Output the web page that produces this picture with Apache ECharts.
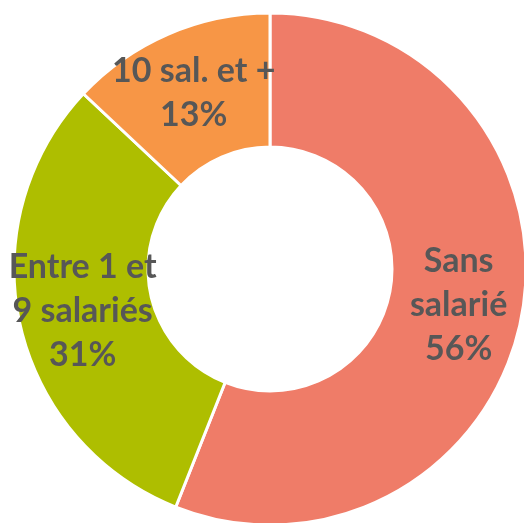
<!DOCTYPE html>
<html>
<head>
<meta charset="utf-8">
<script src="https://cdn.jsdelivr.net/npm/echarts@6/dist/echarts.min.js"></script>
<style>
  html, body { margin: 0; padding: 0; background: #fff; }
  #chart { width: 524px; height: 523px; }
</style>
</head>
<body>
<div id="chart"></div>
<script>
// categories and shares (%)
const categories = ['Sans\nsalarié', 'Entre 1 et\n9 salariés', '10 sal. et +'];
const shares = [56, 31, 13];
const colors = ['#EF7C68', '#AEBE00', '#F79646'];

let chartDom = document.getElementById('chart');
let myChart = echarts.init(chartDom);
let option = {
    animation: false,
    series: [{
        type: 'pie',
        center: [270, 269],
        radius: [122, 256],
        startAngle: 90,
        clockwise: true,
        data: categories.map((name, i) => ({
            name: name,
            value: shares[i],
            itemStyle: { color: colors[i] }
        })),
        itemStyle: {
            borderColor: '#fff',
            borderWidth: 3
        },
        label: {
            show: true,
            position: 'inside',
            formatter: p => p.name + '\n' + p.value + '%',
            color: '#575757',
            fontFamily: 'Lato',
            fontWeight: 'bold',
            fontSize: 34,
            lineHeight: 44,
            align: 'center'
        },
        labelLine: { show: false },
        emphasis: { disabled: true }
    }]
};
option && myChart.setOption(option);
</script>
</body>
</html>
